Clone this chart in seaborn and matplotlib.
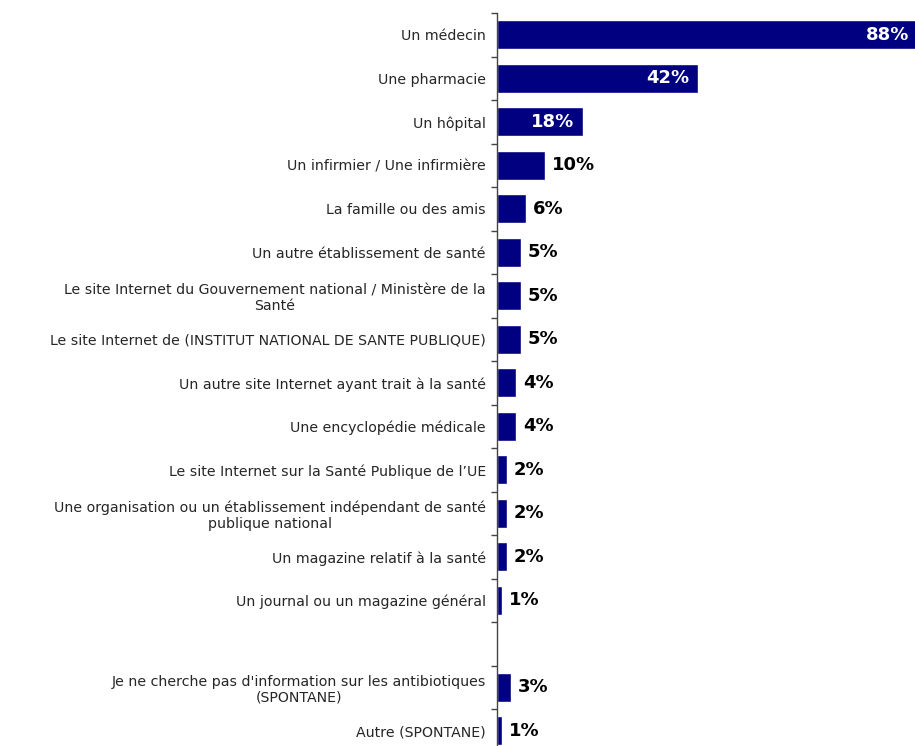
import pandas as pd
import seaborn as sns
import matplotlib.pyplot as plt

# Sources of information on antibiotics (%)
categories = [
    "Un médecin",
    "Une pharmacie",
    "Un hôpital",
    "Un infirmier / Une infirmière",
    "La famille ou des amis",
    "Un autre établissement de santé",
    "Le site Internet du Gouvernement national / Ministère de la\nSanté",
    "Le site Internet de (INSTITUT NATIONAL DE SANTE PUBLIQUE)",
    "Un autre site Internet ayant trait à la santé",
    "Une encyclopédie médicale",
    "Le site Internet sur la Santé Publique de l\u2019UE",
    "Une organisation ou un établissement indépendant de santé\npublique national",
    "Un magazine relatif à la santé",
    "Un journal ou un magazine général",
    "Je ne cherche pas d'information sur les antibiotiques\n(SPONTANE)",
    "Autre (SPONTANE)",
]
values = [88, 42, 18, 10, 6, 5, 5, 5, 4, 4, 2, 2, 2, 1, 3, 1]
value_labels = ["88%", "42%", "18%", "10%", "6%", "5%", "5%", "5%", "4%", "4%",
                "2%", "2%", "2%", "1%", "3%", "1%"]

# empty slot between the regular answers and the spontaneous ones
gap = " "
order = categories[:14] + [gap] + categories[14:]

df = pd.DataFrame({"source": categories, "pct": values, "label": value_labels})

sns.set_style("white")
plt.rcParams["font.family"] = ["DejaVu Sans"]

fig = plt.figure(figsize=(9.15, 7.46), dpi=100)
ax = fig.add_axes([497 / 915, 0.0, 418 / 915, 1 - 13 / 746])

navy = "#000080"
sns.barplot(data=df, y="source", x="pct", order=order, orient="h",
            color=navy, saturation=1, width=0.67, ax=ax)

# value labels: white inside the long bars, black outside the short ones
pos = {c: i for i, c in enumerate(order)}
for c, v, lab in zip(categories, values, value_labels):
    y = pos[c]
    if v >= 15:
        ax.annotate(lab, (v, y), xytext=(-6, 0), textcoords="offset points",
                    ha="right", va="center", color="white",
                    fontsize=13, fontweight="bold", annotation_clip=False)
    else:
        ax.annotate(lab, (v, y), xytext=(5, 0), textcoords="offset points",
                    ha="left", va="center", color="black",
                    fontsize=13, fontweight="bold", annotation_clip=False)

ax.set_xlabel("")
ax.set_ylabel("")
ax.set_xticks([])

# labels without ticks, tick marks at the category boundaries
ax.set_yticks(range(len(order)))
ax.set_yticklabels(order, fontsize=10.2, color="#262626")
for t in ax.get_yticklabels():
    t.set_multialignment("center")
    t.set_linespacing(1.15)
ax.tick_params(axis="y", which="major", length=0, pad=8)
ax.set_yticks([i - 0.5 for i in range(len(order) + 1)], minor=True)
ax.tick_params(axis="y", which="minor", length=4, width=1, direction="out",
               color="#444444", left=True)

for side in ["top", "right", "bottom"]:
    ax.spines[side].set_visible(False)
ax.spines["left"].set_color("#444444")
ax.spines["left"].set_linewidth(1)

ax.autoscale(False)
ax.set_xlim(0, 87.5)
ax.set_ylim(16.35, -0.5)

fig.savefig("out.png", dpi=100)
